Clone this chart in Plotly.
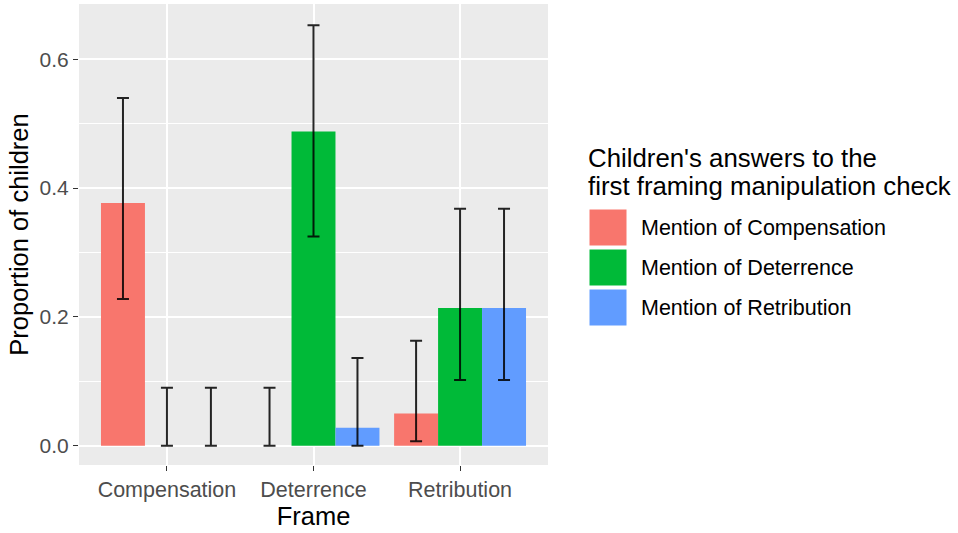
import plotly.graph_objects as go

# Frames shown to the children (x categories)
frames = ["Compensation", "Deterrence", "Retribution"]
frame_pos = [1, 2, 3]

# Answer categories (fill groups)
answers = ["Mention of Compensation", "Mention of Deterrence", "Mention of Retribution"]
colors = ["#F8766D", "#00BA38", "#619CFF"]

# Proportion of children giving each answer, per frame
prop_compensation = [0.377, 0.0, 0.050]
prop_deterrence = [0.0, 0.488, 0.214]
prop_retribution = [0.0, 0.028, 0.214]

# Confidence interval bounds
lower_compensation = [0.228, 0.0, 0.007]
upper_compensation = [0.540, 0.090, 0.163]
lower_deterrence = [0.0, 0.325, 0.102]
upper_deterrence = [0.090, 0.653, 0.368]
lower_retribution = [0.0, 0.0, 0.102]
upper_retribution = [0.090, 0.136, 0.368]

y_ticks = [0.0, 0.2, 0.4, 0.6]
y_range = [-0.030, 0.686]

series = [
    (prop_compensation, lower_compensation, upper_compensation),
    (prop_deterrence, lower_deterrence, upper_deterrence),
    (prop_retribution, lower_retribution, upper_retribution),
]

FONT = "Liberation Sans, Arial, sans-serif"
W, H = 958, 533
L, R, T, B = 79, 410, 4, 68
PW, PH = W - L - R, H - T - B


def px_x(p):
    return (p - L) / PW


def px_y(p):
    return (H - B - p) / PH


fig = go.Figure()
for name, color, (vals, lo, hi) in zip(answers, colors, series):
    fig.add_trace(go.Bar(
        x=frame_pos,
        y=vals,
        name=name,
        marker=dict(color=color, line=dict(width=0)),
        error_y=dict(
            type="data",
            symmetric=False,
            array=[h - v for h, v in zip(hi, vals)],
            arrayminus=[v - l for v, l in zip(vals, lo)],
            color="rgba(0,0,0,0.85)",
            thickness=2,
            width=6,
        ),
        showlegend=False,
    ))

fig.update_layout(
    width=W, height=H,
    margin=dict(l=L, r=R, t=T, b=B, pad=0),
    paper_bgcolor="white",
    plot_bgcolor="#EBEBEB",
    barmode="group",
    bargap=0.1,
    bargroupgap=0,
    font=dict(family=FONT, color="black"),
    xaxis=dict(
        range=[0.4, 3.6],
        tickvals=frame_pos,
        ticktext=frames,
        showgrid=True, gridcolor="white", gridwidth=1.8,
        zeroline=False, showline=False,
        ticks="outside", ticklen=5, tickwidth=1.3, tickcolor="#333333",
        tickfont=dict(size=21.5, color="#4D4D4D", family=FONT),
        title=dict(text="Frame", font=dict(size=25.5, color="black", family=FONT), standoff=6),
    ),
    yaxis=dict(
        range=y_range,
        tickvals=y_ticks,
        tickformat=".1f",
        showgrid=True, gridcolor="white", gridwidth=1.8,
        minor=dict(dtick=0.1, tick0=0, showgrid=True, gridcolor="white", gridwidth=0.9, ticks=""),
        zeroline=False, showline=False,
        ticks="outside", ticklen=5, tickwidth=1.3, tickcolor="#333333",
        tickfont=dict(size=21, color="#4D4D4D", family=FONT),
        title=dict(text="Proportion of children", font=dict(size=25.5, color="black", family=FONT), standoff=3),
    ),
)

# Legend drawn as keys and labels beside the panel
annotations = [
    dict(text="Children's answers to the", x=px_x(586), y=px_y(158)),
    dict(text="first framing manipulation check", x=px_x(586), y=px_y(186)),
]
for a in annotations:
    a.update(xref="paper", yref="paper", xanchor="left", yanchor="middle",
             showarrow=False, font=dict(size=25.8, color="black", family=FONT))

shapes = []
key_centers = [227.5, 267.5, 307.5]
for name, color, cy in zip(answers, colors, key_centers):
    shapes.append(dict(
        type="rect", xref="paper", yref="paper",
        x0=px_x(589), x1=px_x(627), y0=px_y(cy - 18.5), y1=px_y(cy + 18.5),
        fillcolor=color, line=dict(color="white", width=1),
    ))
    annotations.append(dict(
        text=name, x=px_x(639), y=px_y(cy), xref="paper", yref="paper",
        xanchor="left", yanchor="middle", showarrow=False,
        font=dict(size=21.5, color="black", family=FONT),
    ))

fig.update_layout(annotations=annotations, shapes=shapes)

fig.write_html("out.html")
